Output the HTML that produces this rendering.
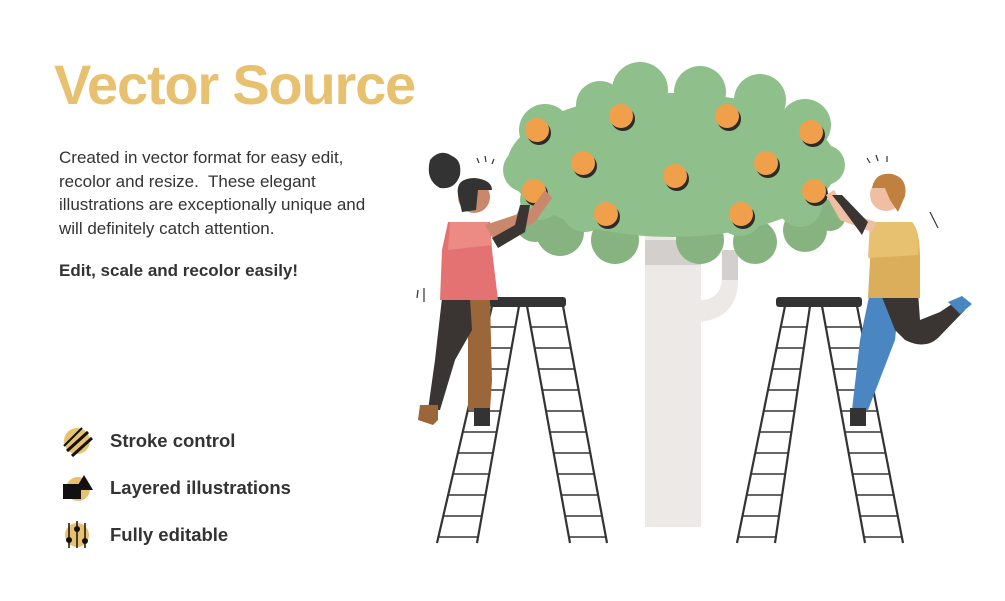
<!DOCTYPE html>
<html><head><meta charset="utf-8"><style>
html,body{margin:0;padding:0;background:#fff;}
body{width:1005px;height:601px;position:relative;overflow:hidden;font-family:"Liberation Sans",sans-serif;}
.t{position:absolute;left:54px;top:52px;font-size:56px;font-weight:bold;color:#e8c170;letter-spacing:-1.2px;}
.p{position:absolute;left:59px;top:146px;font-size:17px;line-height:23.5px;color:#333;white-space:nowrap;}
.b{position:absolute;left:59px;top:261px;font-size:17px;font-weight:bold;color:#333;}
.i{position:absolute;left:110px;font-size:18.5px;font-weight:bold;color:#333;}
svg{position:absolute;left:0;top:0;}
</style></head><body>
<div class="t">Vector Source</div>
<div class="p">Created in vector format for easy edit,<br>recolor and resize.&nbsp; These elegant<br>illustrations are exceptionally unique and<br>will definitely catch attention.</div>
<div class="b">Edit, scale and recolor easily!</div>
<div class="i" style="top:430px">Stroke control</div>
<div class="i" style="top:477px">Layered illustrations</div>
<div class="i" style="top:524px">Fully editable</div>
<svg width="1005" height="601" viewBox="0 0 1005 601">
<defs>
<clipPath id="l1"><polygon points="492,306 519,306 477,543 437,543"/></clipPath>
<clipPath id="l2"><polygon points="527,306 563,306 607,543 570,543"/></clipPath>
<clipPath id="l3"><polygon points="785,306 810,306 775,543 737,543"/></clipPath>
<clipPath id="l4"><polygon points="822,306 857,306 903,543 865,543"/></clipPath>
<g id="rungs" stroke="#333" stroke-width="1.6">
<line x1="400" x2="950" y1="327" y2="327"/><line x1="400" x2="950" y1="348" y2="348"/><line x1="400" x2="950" y1="369" y2="369"/><line x1="400" x2="950" y1="390" y2="390"/><line x1="400" x2="950" y1="411" y2="411"/><line x1="400" x2="950" y1="432" y2="432"/><line x1="400" x2="950" y1="453" y2="453"/><line x1="400" x2="950" y1="474" y2="474"/><line x1="400" x2="950" y1="495" y2="495"/><line x1="400" x2="950" y1="516" y2="516"/><line x1="400" x2="950" y1="537" y2="537"/>
</g>
</defs>
<circle cx="77" cy="441" r="13" fill="#e8c170"/>
<line x1="64" y1="446" x2="82" y2="428" stroke="#111" stroke-width="2"/>
<line x1="67" y1="451" x2="88" y2="432" stroke="#111" stroke-width="3"/>
<line x1="72" y1="456" x2="92" y2="438" stroke="#111" stroke-width="3"/>
<circle cx="78" cy="489" r="12" fill="#e8c170"/>
<rect x="63" y="484" width="18" height="15" fill="#111"/>
<polygon points="84,475 93,490 75,490" fill="#111"/>
<circle cx="77" cy="535" r="12" fill="#e8c170"/>
<g stroke="#111" stroke-width="1.5"><line x1="69" y1="523" x2="69" y2="548"/><line x1="77" y1="521" x2="77" y2="548"/><line x1="85" y1="523" x2="85" y2="548"/></g>
<circle cx="69" cy="540" r="3" fill="#111"/><circle cx="77" cy="529" r="3" fill="#111"/><circle cx="85" cy="541" r="3" fill="#111"/>
<rect x="645" y="230" width="56" height="297" fill="#ede9e6"/>
<path d="M700 300 Q720 300 722 280 L722 250 L738 250 L738 285 Q735 318 700 322 Z" fill="#ede9e6"/>
<rect x="645" y="240" width="56" height="25" fill="#d2cfcd"/>
<rect x="722" y="250" width="16" height="30" fill="#d2cfcd"/>
<g fill="#86b37f">
<circle cx="560" cy="232" r="24"/><circle cx="615" cy="240" r="24"/><circle cx="700" cy="240" r="24"/><circle cx="755" cy="242" r="22"/><circle cx="805" cy="230" r="22"/><circle cx="535" cy="222" r="20"/><circle cx="830" cy="215" r="16"/>
</g>
<g fill="#8fbf8a">
<ellipse cx="672" cy="165" rx="165" ry="72"/>
<circle cx="640" cy="90" r="28"/><circle cx="600" cy="105" r="24"/><circle cx="700" cy="92" r="26"/><circle cx="760" cy="100" r="26"/>
<circle cx="545" cy="130" r="26"/><circle cx="805" cy="125" r="26"/><circle cx="525" cy="170" r="22"/><circle cx="825" cy="165" r="20"/>
<circle cx="585" cy="208" r="24"/><circle cx="655" cy="212" r="24"/><circle cx="740" cy="212" r="24"/><circle cx="800" cy="205" r="22"/><circle cx="540" cy="200" r="20"/>
</g>
<g>
<g transform="translate(537,130)"><circle cx="2" cy="3" r="12" fill="#2e2a28"/><circle r="12" fill="#f0a04b"/></g>
<g transform="translate(621,116)"><circle cx="2" cy="3" r="12" fill="#2e2a28"/><circle r="12" fill="#f0a04b"/></g>
<g transform="translate(727,116)"><circle cx="2" cy="3" r="12" fill="#2e2a28"/><circle r="12" fill="#f0a04b"/></g>
<g transform="translate(811,132)"><circle cx="2" cy="3" r="12" fill="#2e2a28"/><circle r="12" fill="#f0a04b"/></g>
<g transform="translate(583,163)"><circle cx="2" cy="3" r="12" fill="#2e2a28"/><circle r="12" fill="#f0a04b"/></g>
<g transform="translate(675,176)"><circle cx="2" cy="3" r="12" fill="#2e2a28"/><circle r="12" fill="#f0a04b"/></g>
<g transform="translate(766,163)"><circle cx="2" cy="3" r="12" fill="#2e2a28"/><circle r="12" fill="#f0a04b"/></g>
<g transform="translate(534,191)"><circle cx="2" cy="3" r="12" fill="#2e2a28"/><circle r="12" fill="#f0a04b"/></g>
<g transform="translate(606,214)"><circle cx="2" cy="3" r="12" fill="#2e2a28"/><circle r="12" fill="#f0a04b"/></g>
<g transform="translate(741,214)"><circle cx="2" cy="3" r="12" fill="#2e2a28"/><circle r="12" fill="#f0a04b"/></g>
<g transform="translate(814,191)"><circle cx="2" cy="3" r="12" fill="#2e2a28"/><circle r="12" fill="#f0a04b"/></g>
</g>
<g stroke="#333" stroke-width="2.2">
<line x1="492" y1="306" x2="437" y2="543"/><line x1="519" y1="306" x2="477" y2="543"/>
<line x1="527" y1="306" x2="570" y2="543"/><line x1="563" y1="306" x2="607" y2="543"/>
<line x1="785" y1="306" x2="737" y2="543"/><line x1="810" y1="306" x2="775" y2="543"/>
<line x1="822" y1="306" x2="865" y2="543"/><line x1="857" y1="306" x2="903" y2="543"/>
</g>
<use href="#rungs" clip-path="url(#l1)"/><use href="#rungs" clip-path="url(#l2)"/>
<use href="#rungs" clip-path="url(#l3)"/><use href="#rungs" clip-path="url(#l4)"/>
<rect x="489" y="297" width="77" height="10" rx="3" fill="#333"/>
<rect x="776" y="297" width="86" height="10" rx="3" fill="#333"/>
<path d="M468 300 L490 300 L492 380 L490 410 L468 410 Z" fill="#9b663a"/>
<path d="M442 298 L470 298 L472 330 L455 360 L440 410 L428 410 L435 360 Z" fill="#3a3533"/>
<path d="M420 405 L438 405 L438 420 L433 425 L418 420 Z" fill="#9b663a"/>
<rect x="474" y="408" width="16" height="18" fill="#333"/>
<path d="M448 222 L490 222 L492 250 L498 300 L440 300 L442 250 Z" fill="#e57272"/>
<path d="M450 222 L488 222 L492 245 L448 250 Z" fill="#ec8a84"/>
<path d="M485 225 L530 210 L545 190 L552 198 L535 222 L495 242 Z" fill="#c9876b"/>
<path d="M492 238 L515 225 L520 205 L530 205 L525 232 L498 248 Z" fill="#3a3533"/>
<circle cx="474" cy="197" r="16" fill="#c9876b"/>
<path d="M458 195 Q455 178 475 178 Q492 180 492 190 L478 190 L476 210 L462 212 Z" fill="#333"/>
<path d="M430 160 Q440 148 452 156 Q462 160 460 175 Q455 190 440 188 Q425 180 430 160Z" fill="#333"/>
<path d="M870 292 L900 292 L895 340 L868 410 L852 410 L860 340 Z" fill="#4a86c1"/>
<path d="M880 292 L918 292 L920 320 L940 312 L958 300 L965 310 L938 338 Q925 350 905 340 L895 330 Z" fill="#3a3533"/>
<path d="M948 302 L962 296 L972 304 L960 314 Z" fill="#4a86c1"/>
<rect x="850" y="408" width="16" height="18" fill="#333"/>
<path d="M870 222 L912 222 Q920 230 920 260 L920 298 L868 298 L870 260 Z" fill="#dbae5c"/>
<path d="M870 222 L912 222 Q920 232 918 255 L868 258 Z" fill="#e8c170"/>
<path d="M872 232 L840 220 L826 195 L834 190 L846 212 L876 222 Z" fill="#f0bfa3"/>
<path d="M840 205 L832 195 L842 195 L868 222 L862 235 Z" fill="#3a3533"/>
<circle cx="886" cy="195" r="16" fill="#f0bfa3"/>
<path d="M872 188 Q875 172 892 174 Q908 178 905 196 L898 212 L890 200 L885 188 Z" fill="#c0803f"/>
<g stroke="#333" stroke-width="1.2">
<line x1="477" y1="158" x2="479" y2="163"/><line x1="485" y1="156" x2="486" y2="162"/><line x1="494" y1="159" x2="492" y2="164"/>
<line x1="867" y1="158" x2="870" y2="163"/><line x1="876" y1="155" x2="878" y2="161"/><line x1="887" y1="156" x2="887" y2="162"/>
<line x1="930" y1="212" x2="938" y2="228"/><line x1="418" y1="290" x2="417" y2="298"/><line x1="424" y1="288" x2="424" y2="302"/>
</g>
</svg>
</body></html>
